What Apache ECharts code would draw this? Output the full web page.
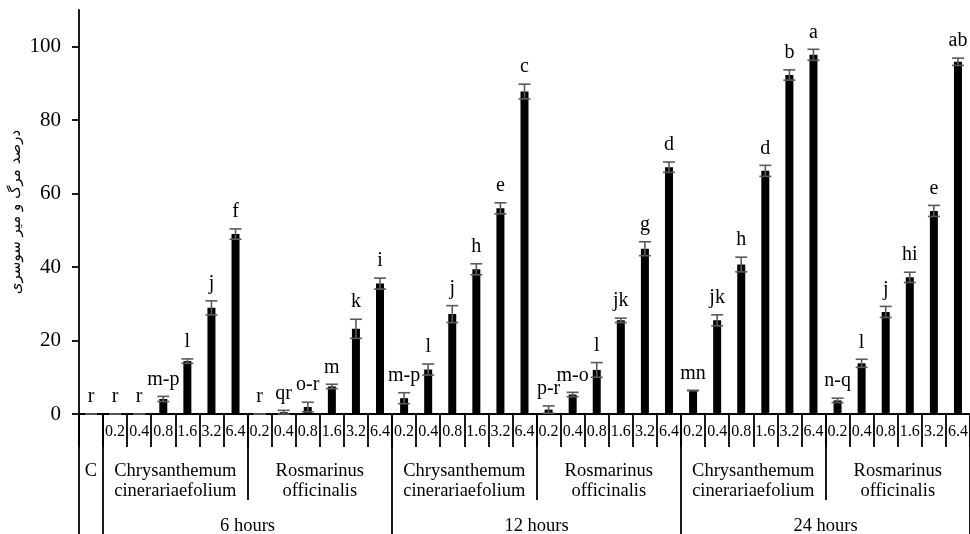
<!DOCTYPE html>
<html>
<head>
<meta charset="utf-8">
<script src="https://cdn.jsdelivr.net/npm/echarts@6/dist/echarts.min.js"></script>
<style>
html,body{margin:0;padding:0;background:#fff;}
#chart{width:970px;height:534px;}
</style>
</head>
<body>
<div id="chart"></div>
<script>
// ---- data ----
const controlLabel = 'C';
const doseLabels = ['0.2', '0.4', '0.8', '1.6', '3.2', '6.4'];
const speciesLabels = ['Chrysanthemum\ncinerariaefolium', 'Rosmarinus\nofficinalis'];
const hourLabels = ['6 hours', '12 hours', '24 hours'];
const yTicks = [0, 20, 40, 60, 80, 100];
const yAxisTitle = 'درصد مرگ و میر سوسری';

const controlValue = [0];
const h6Chr = [0, 0, 4.1, 14.4, 28.9, 49.0];
const h6Ros = [0, 0.5, 1.9, 7.5, 23.2, 35.5];
const h12Chr = [4.3, 12.1, 27.2, 39.4, 56.0, 87.8];
const h12Ros = [1.2, 5.3, 12.0, 25.5, 45.0, 67.2];
const h24Chr = [6.4, 25.5, 40.7, 66.2, 92.3, 97.8];
const h24Ros = [3.7, 13.8, 27.8, 37.2, 55.3, 95.9];

const controlErr = [0];
const h6ChrErr = [0, 0, 0.7, 0.6, 1.9, 1.4];
const h6RosErr = [0, 0.5, 1.3, 0.6, 2.6, 1.5];
const h12ChrErr = [1.5, 1.5, 2.3, 1.5, 1.5, 2.0];
const h12RosErr = [1.0, 0.6, 2.0, 0.6, 1.9, 1.4];
const h24ChrErr = [0, 1.5, 2.0, 1.5, 1.4, 1.5];
const h24RosErr = [0.6, 1.1, 1.5, 1.4, 1.5, 1.0];

const controlLetter = ['r'];
const h6ChrLetters = ['r', 'r', 'm-p', 'l', 'j', 'f'];
const h6RosLetters = ['r', 'qr', 'o-r', 'm', 'k', 'i'];
const h12ChrLetters = ['m-p', 'l', 'j', 'h', 'e', 'c'];
const h12RosLetters = ['p-r', 'm-o', 'l', 'jk', 'g', 'd'];
const h24ChrLetters = ['mn', 'jk', 'h', 'd', 'b', 'a'];
const h24RosLetters = ['n-q', 'l', 'j', 'hi', 'e', 'ab'];

// ---- build ----
const values = [].concat(controlValue, h6Chr, h6Ros, h12Chr, h12Ros, h24Chr, h24Ros);
const errs = [].concat(controlErr, h6ChrErr, h6RosErr, h12ChrErr, h12RosErr, h24ChrErr, h24RosErr);
const letters = [].concat(controlLetter, h6ChrLetters, h6RosLetters, h12ChrLetters, h12RosLetters, h24ChrLetters, h24RosLetters);

const categories = [''];
hourLabels.forEach(() => speciesLabels.forEach(() => doseLabels.forEach(d => categories.push(d))));
const nCat = categories.length;          // 37
const nHalf = nCat * 2 + 1;              // 75 half-step points

// species row (half-step axis)
const speciesRow = new Array(nHalf).fill('');
speciesRow[1] = controlLabel;
const speciesTicks = new Set();
let pos = 2;
hourLabels.forEach(() => {
  speciesLabels.forEach((s, si) => {
    speciesRow[pos + doseLabels.length] = s;
    if (si > 0) speciesTicks.add(pos);
    pos += doseLabels.length * 2;
  });
});
// hours row
const hourRow = new Array(nHalf).fill('');
const hourTicks = new Set([0, 2]);
pos = 2;
hourLabels.forEach(h => {
  const w = speciesLabels.length * doseLabels.length * 2;
  hourRow[pos + w / 2] = h;
  pos += w;
  hourTicks.add(pos);
});

const serif = 'Liberation Serif';
const lineCol = '#000';
const lw = 1.8;

const chart = echarts.init(document.getElementById('chart'), null, {renderer: 'canvas'});
chart.setOption({
  animation: false,
  backgroundColor: '#fff',
  grid: {left: 79, right: 0, top: 10, bottom: 120, containLabel: false, outerBoundsMode: 'none'},
  xAxis: [
    {
      type: 'category', data: categories, position: 'bottom', boundaryGap: true,
      axisLine: {show: true, lineStyle: {color: lineCol, width: lw}},
      axisTick: {show: true, interval: 0, length: 33, lineStyle: {color: lineCol, width: lw}},
      axisLabel: {interval: 0, margin: 10, color: '#000', fontFamily: serif, fontSize: 16, lineHeight: 16}
    },
    {
      type: 'category', data: speciesRow, position: 'bottom', boundaryGap: false,
      axisLine: {show: false},
      axisTick: {show: true, length: 86, interval: (i) => speciesTicks.has(i), lineStyle: {color: lineCol, width: lw}},
      axisLabel: {interval: (i, v) => v !== '', margin: 47, color: '#000', fontFamily: serif, fontSize: 18.5, lineHeight: 20}
    },
    {
      type: 'category', data: hourRow, position: 'bottom', boundaryGap: false,
      axisLine: {show: false},
      axisTick: {show: true, length: 120, interval: (i) => hourTicks.has(i), lineStyle: {color: lineCol, width: lw}},
      axisLabel: {interval: (i, v) => v !== '', margin: 103, color: '#000', fontFamily: serif, fontSize: 18.5, lineHeight: 18}
    }
  ],
  yAxis: {
    type: 'value', min: 0, max: 110,
    name: yAxisTitle, nameLocation: 'middle', nameGap: 55, nameRotate: 90, nameMoveOverlap: false,
    nameTextStyle: {fontFamily: 'DejaVu Sans', fontSize: 15, color: '#000'},
    axisLine: {show: true, lineStyle: {color: lineCol, width: lw}},
    axisTick: {show: true, length: 7, customValues: yTicks, lineStyle: {color: lineCol, width: lw}},
    axisLabel: {customValues: yTicks, margin: 18, color: '#000', fontFamily: serif, fontSize: 21},
    splitLine: {show: false}
  },
  series: [
    {
      type: 'bar', data: values, barWidth: 8, xAxisIndex: 0,
      itemStyle: {color: '#000'}
    },
    {
      type: 'custom', xAxisIndex: 0, yAxisIndex: 0,
      data: values.map((v, i) => [i, v, errs[i]]),
      encode: {x: 0, y: 1},
      z: 5,
      renderItem: function (params, api) {
        const i = api.value(0), v = api.value(1), e = api.value(2);
        const top = api.coord([i, v + e]);
        const bot = api.coord([i, Math.max(0, v - e)]);
        const half = 6;
        const st = {stroke: '#5a5a5a', lineWidth: 1.6};
        const children = [
          {type: 'line', shape: {x1: top[0], y1: top[1], x2: bot[0], y2: bot[1]}, style: st},
          {type: 'line', shape: {x1: top[0] - half, y1: top[1], x2: top[0] + half, y2: top[1]}, style: st},
          {type: 'line', shape: {x1: bot[0] - half, y1: bot[1], x2: bot[0] + half, y2: bot[1]}, style: st},
          {type: 'text', style: {text: letters[params.dataIndex], x: top[0], y: top[1] - 7,
            textAlign: 'center', textVerticalAlign: 'bottom', fill: '#000',
            font: '20px "Liberation Serif"'}}
        ];
        return {type: 'group', children: children};
      }
    }
  ]
});
</script>
</body>
</html>
